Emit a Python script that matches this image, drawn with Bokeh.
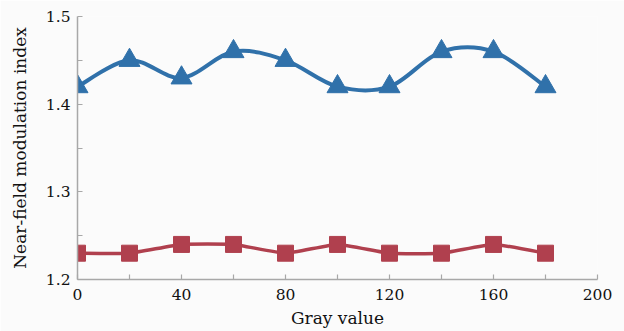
import numpy as np
from bokeh.plotting import figure
from bokeh.models import FixedTicker, Range1d, ColumnDataSource
from bokeh.embed import file_html
from bokeh.resources import INLINE

gray = [0, 20, 40, 60, 80, 100, 120, 140, 160, 180]
blue_vals = [1.42, 1.45, 1.43, 1.46, 1.45, 1.42, 1.42, 1.46, 1.46, 1.42]
red_vals = [1.23, 1.23, 1.24, 1.24, 1.23, 1.24, 1.23, 1.23, 1.24, 1.23]
x_ticks = [0, 40, 80, 120, 160, 200]
x_minor = [20, 60, 100, 140, 180]
y_ticks = [1.2, 1.3, 1.4, 1.5]
y_minor = [1.25, 1.35, 1.45]

BLUE = "#3071aa"
RED = "#b0404e"
FONT = "DejaVu Serif"


def spline_segments(xs, ys, k):
    x = np.asarray(xs, float)
    y = np.asarray(ys, float)
    xp = np.concatenate([[x[0]], x, [x[-1]]])
    yp = np.concatenate([[y[0]], y, [y[-1]]])
    n = len(x)
    d = dict(x0=[], y0=[], x1=[], y1=[], cx0=[], cy0=[], cx1=[], cy1=[])
    for i in range(n - 1):
        p0x, p0y = xp[i], yp[i]
        p1x, p1y = xp[i + 1], yp[i + 1]
        p2x, p2y = xp[i + 2], yp[i + 2]
        p3x, p3y = xp[i + 3], yp[i + 3]
        d["x0"].append(p1x); d["y0"].append(p1y)
        d["x1"].append(p2x); d["y1"].append(p2y)
        d["cx0"].append(p1x + (p2x - p0x) * k); d["cy0"].append(p1y + (p2y - p0y) * k)
        d["cx1"].append(p2x - (p3x - p1x) * k); d["cy1"].append(p2y - (p3y - p1y) * k)
    return ColumnDataSource(d)


p = figure(width=624, height=331, output_backend="svg", toolbar_location=None,
           x_range=Range1d(0, 200), y_range=Range1d(1.2, 1.5),
           min_border_left=77, min_border_right=27, min_border_top=16, min_border_bottom=52)
p.background_fill_color = "#fbfbfb"
p.border_fill_color = "#fbfbfb"
p.outline_line_color = None
p.xgrid.visible = False
p.ygrid.visible = False

p.bezier(x0="x0", y0="y0", x1="x1", y1="y1", cx0="cx0", cy0="cy0", cx1="cx1", cy1="cy1",
         source=spline_segments(gray, blue_vals, 1 / 6), line_color=BLUE, line_width=4)
p.bezier(x0="x0", y0="y0", x1="x1", y1="y1", cx0="cx0", cy0="cy0", cx1="cx1", cy1="cy1",
         source=spline_segments(gray, red_vals, 1 / 14), line_color=RED, line_width=3.5)
p.scatter(gray, blue_vals, marker="triangle", size=21, fill_color=BLUE, line_color=BLUE)
p.scatter(gray, red_vals, marker="square", size=16, fill_color=RED, line_color=RED)

for ax in (p.xaxis[0], p.yaxis[0]):
    ax.axis_line_color = "#a8a8a8"
    ax.axis_line_width = 1.5
    ax.major_tick_line_color = "#a8a8a8"
    ax.minor_tick_line_color = "#a8a8a8"
    ax.major_tick_line_width = 1.2
    ax.minor_tick_line_width = 1.2
    ax.major_tick_in = 5
    ax.major_tick_out = 0
    ax.minor_tick_in = 5
    ax.minor_tick_out = 0
    ax.major_label_text_font = FONT
    ax.major_label_text_font_size = "15.5px"
    ax.major_label_text_color = "#111111"
    ax.axis_label_text_font = FONT
    ax.axis_label_text_font_size = "17px"
    ax.axis_label_text_font_style = "normal"
    ax.axis_label_text_color = "#111111"

p.xaxis.ticker = FixedTicker(ticks=x_ticks, minor_ticks=x_minor)
p.yaxis.ticker = FixedTicker(ticks=y_ticks, minor_ticks=y_minor)
p.xaxis.axis_label = "Gray value"
p.yaxis.axis_label = "Near-field modulation index"
p.xaxis.major_label_standoff = 9
p.yaxis.major_label_standoff = 7
p.xaxis.axis_label_standoff = 5
p.yaxis.axis_label_standoff = 13

open("out.html", "w").write(file_html(p, INLINE))
